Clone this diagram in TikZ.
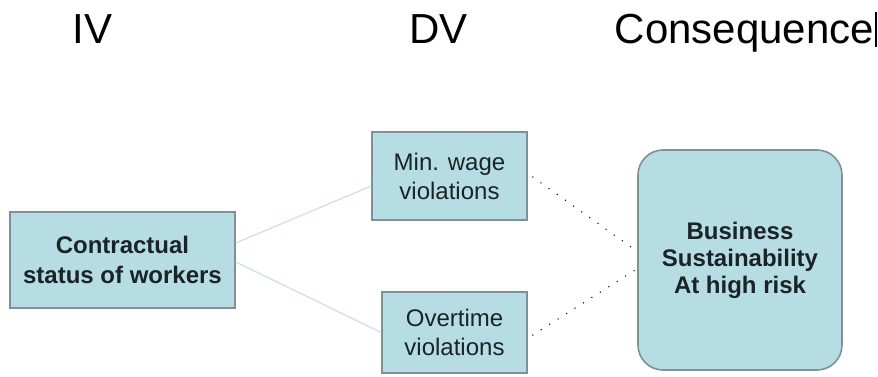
\documentclass[tikz,border=0pt]{standalone}
\usepackage{fontspec}
\setmainfont{Liberation Sans}
\definecolor{boxfill}{RGB}{182,221,227}
\definecolor{boxline}{RGB}{125,145,150}
\definecolor{linkcol}{RGB}{208,228,230}
\definecolor{boxtext}{RGB}{25,35,40}
\begin{document}
\begin{tikzpicture}[x=1pt,y=-1pt,
  title/.style={inner sep=0pt,anchor=base,font=\fontsize{42}{46}\selectfont},
  varbox/.style={draw=boxline,line width=1.6pt,fill=boxfill,align=center,inner sep=0pt,text=boxtext},
  boldtext/.style={font=\bfseries\fontsize{24}{30}\selectfont},
  plaintext/.style={font=\fontsize{24}{29}\selectfont},
  link/.style={draw=linkcol,line width=1.4pt},
  dotlink/.style={draw=black,line width=1.5pt,line cap=round,dash pattern=on 0pt off 10pt}]
\useasboundingbox[fill=white] (0,0) rectangle (878,376);
\node[title] (iv) at (92.5,43) {IV};
\node[title] (dv) at (438.5,43) {DV};
\node[title] (cons) at (744.5,43) {Consequence};
\coordinate (curtop) at (876,12);
\coordinate (curbot) at (876,47);
\draw[line width=1.2pt] (curtop) -- (curbot);
\node[varbox,boldtext,minimum width=225pt,minimum height=96pt] (contract) at (122.5,260) {Contractual\\status of workers};
\node[varbox,plaintext,minimum width=155pt,minimum height=88pt] (minwage) at (449.5,176) {Min. wage\\violations};
\node[varbox,plaintext,minimum width=145pt,minimum height=81pt] (overtime) at (454.5,332.5) {Overtime\\violations};
\node[varbox,boldtext,rounded corners=25pt,minimum width=204pt,minimum height=220pt,font=\bfseries\fontsize{24}{27}\selectfont] (business) at (740,260) {Business\\Sustainability\\At high risk};
\draw[link] ([yshift=17pt]contract.east) -- ([yshift=-10pt]minwage.west);
\draw[link] ([yshift=-2pt]contract.east) -- (overtime.west);
\draw[dotlink] ([yshift=-1pt,xshift=5pt]minwage.east) -- ([yshift=10pt,xshift=-2pt]business.west);
\draw[dotlink] ([yshift=-2.5pt,xshift=5pt]overtime.east) -- ([yshift=-10pt,xshift=-2pt]business.west);
\end{tikzpicture}
\end{document}
